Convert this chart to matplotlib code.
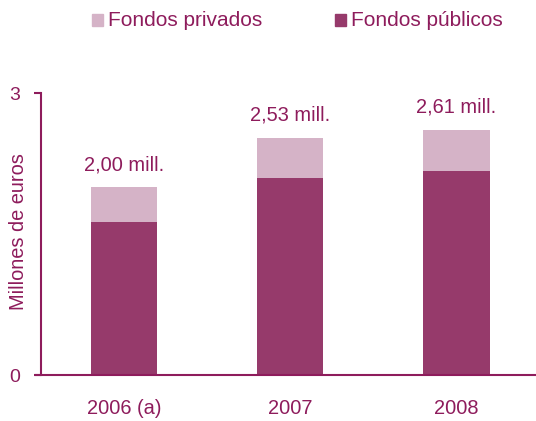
import matplotlib
matplotlib.use("Agg")
import matplotlib.pyplot as plt
from matplotlib.patches import Rectangle

plt.rcParams['font.family'] = ['Liberation Sans', 'DejaVu Sans']

# datos (millones de euros)
anios = ['2006 (a)', '2007', '2008']
publicos = [1.63, 2.10, 2.17]
totales = [2.00, 2.53, 2.61]
privados = [t - p for t, p in zip(totales, publicos)]
etiquetas = ['2,00 mill.', '2,53 mill.', '2,61 mill.']

c_pub = '#963a6b'
c_priv = '#d5b3c7'
c_txt = '#8e1c5c'

fig = plt.figure(figsize=(5.36, 4.21), dpi=100)
ax = fig.add_axes([0.077, 0.109, 0.923, 0.669])

x = range(len(anios))
ax.bar(x, publicos, width=0.4, color=c_pub, label='Fondos públicos')
ax.bar(x, privados, width=0.4, bottom=publicos, color=c_priv, label='Fondos privados')

for i, t in enumerate(totales):
    ax.text(i, t + 0.14, etiquetas[i], ha='center', va='bottom', color=c_txt, fontsize=14.4)

ax.set_xlim(-0.5, 2.48)
ax.set_ylim(0, 3)
ax.set_yticks([0, 3])
ax.set_xticks(list(x))
ax.set_xticklabels(anios)
ax.tick_params(axis='x', length=0, pad=17, labelsize=14.4, labelcolor=c_txt)
ax.tick_params(axis='y', length=5, width=1.5, color=c_txt, labelsize=14, labelcolor=c_txt, pad=10)
ax.set_ylabel('Millones de euros', color=c_txt, fontsize=14.4)
ax.yaxis.set_label_coords(-0.027, 0.51)
for s in ['top', 'right']:
    ax.spines[s].set_visible(False)
for s in ['left', 'bottom']:
    ax.spines[s].set_color(c_txt)
    ax.spines[s].set_linewidth(1.5)
ax.spines['bottom'].set_bounds(-0.53, 2.48)

# leyenda
fig.patches.append(Rectangle((92 / 536, 1 - 26 / 421), 11 / 536, 12 / 421,
                             transform=fig.transFigure, color=c_priv))
fig.text(108 / 536, 1 - 20 / 421, 'Fondos privados', color=c_txt, fontsize=15, va='center')
fig.patches.append(Rectangle((335 / 536, 1 - 26 / 421), 11 / 536, 12 / 421,
                             transform=fig.transFigure, color=c_pub))
fig.text(351 / 536, 1 - 20 / 421, 'Fondos públicos', color=c_txt, fontsize=15, va='center')

fig.savefig('out.png', dpi=100)
